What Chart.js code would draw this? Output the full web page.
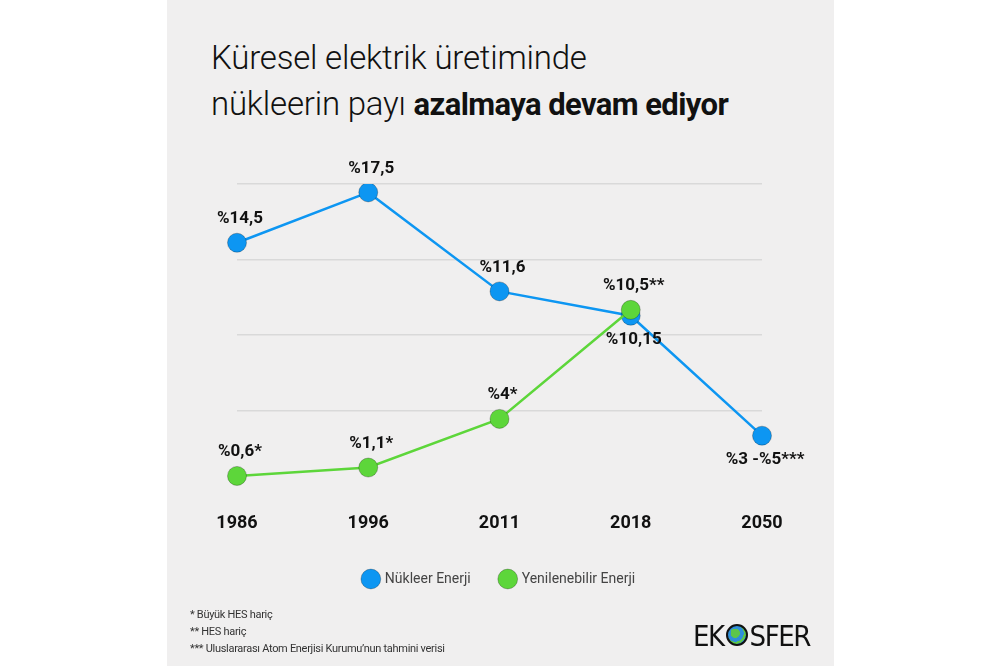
<!DOCTYPE html>
<html>
<head>
<meta charset="utf-8">
<script src="https://cdn.jsdelivr.net/npm/chart.js"></script>
<style>
    html, body { margin: 0; padding: 0; background: #fff; }
    #wrap { position: relative; width: 1000px; height: 666px; overflow: hidden; }
    #panel { position: absolute; left: 167px; top: 0; width: 667px; height: 666px; background: #f0efef; }
    #grafik { position: absolute; left: 0; top: 0; }
    .baslik { position: absolute; left: 211px; font-family: Roboto, 'Liberation Sans', sans-serif; font-weight: 300; font-size: 33px; line-height: 33px; color: #111; white-space: nowrap; letter-spacing: -0.2px; }
    .baslik b { font-weight: 700; font-size: 31px; letter-spacing: -0.6px; }
    .not { position: absolute; left: 190px; font-family: Roboto, sans-serif; font-size: 11px; line-height: 12px; color: #333; letter-spacing: -0.3px; }
    #logo { position: absolute; left: 693px; top: 620px; font-family: 'DejaVu Sans Condensed', 'DejaVu Sans', sans-serif; font-size: 29px; line-height: 32px; color: #111; letter-spacing: -1.5px; }
    #logo span { display: inline-block; width: 18px; height: 18px; border-radius: 50%; vertical-align: 0px; margin: 0 2px; border: 2px solid #111;
        background: radial-gradient(circle at 40% 40%, #5cc64a 0 30%, #2f8fd8 31% 55%, #5cc64a 56% 70%, #2f8fd8 71%); }
</style>
</head>
<body>
<div id="wrap">
    <div id="panel"></div>
    <div class="baslik" style="top:41px">Küresel elektrik üretiminde</div>
    <div class="baslik" style="top:87px">nükleerin payı <b>azalmaya devam ediyor</b></div>
    <canvas id="grafik" width="1000" height="666"></canvas>
    <div class="not" style="top:609px">* Büyük HES hariç</div>
    <div class="not" style="top:626px">** HES hariç</div>
    <div class="not" style="top:643px">*** Uluslararası Atom Enerjisi Kurumu’nun tahmini verisi</div>
    <div id="logo">EK<span></span>SFER</div>
</div>
<script>
    // veriler
    var yillar = ['1986', '1996', '2011', '2018', '2050'];
    var nukleer = [14.5, 17.5, 11.6, 10.15, 3];
    var yenilenebilir = [0.6, 1.1, 4, 10.5, null];
    var nukleerEtiket = ['%14,5', '%17,5', '%11,6', '%10,15', '%3 -%5***'];
    var yenilenebilirEtiket = ['%0,6*', '%1,1*', '%4*', '%10,5**', ''];
    var yMin = 0;
    var yMax = 18;
    var yAdim = 4.5;

    var mavi = '#0d96f2';
    var yesil = '#5dd63a';
    var yaziFont = "Roboto, 'Liberation Sans', sans-serif";

    // nokta etiketleri
    var etiketPlugin = {
        id: 'etiketler',
        afterDatasetsDraw: function (chart) {
            var ctx = chart.ctx;
            ctx.save();
            ctx.font = 'bold 17px ' + yaziFont;
            ctx.fillStyle = '#111';
            ctx.textAlign = 'center';
            ctx.textBaseline = 'middle';
            chart.data.datasets.forEach(function (ds, i) {
                var meta = chart.getDatasetMeta(i);
                meta.data.forEach(function (pt, j) {
                    var txt = ds.etiketler[j];
                    if (!txt || pt.skip) return;
                    var dy = ds.altta[j] ? 24 : -24;
                    ctx.fillText(txt, pt.x + 3, pt.y + dy);
                });
            });
            ctx.restore();
        }
    };

    var ctx = document.getElementById('grafik');
    var chart = new Chart(ctx, {
        type: 'line',
        data: {
            labels: yillar,
            datasets: [{
                label: 'Nükleer Enerji',
                data: nukleer,
                etiketler: nukleerEtiket,
                altta: [false, false, false, true, true],
                borderColor: mavi,
                backgroundColor: mavi,
                pointBackgroundColor: mavi,
                pointBorderColor: 'rgba(0,0,0,0.25)',
                pointBorderWidth: 1,
                pointRadius: 9.5,
                borderWidth: 2.5,
                order: 1
            }, {
                label: 'Yenilenebilir Enerji',
                data: yenilenebilir,
                etiketler: yenilenebilirEtiket,
                altta: [false, false, false, false, false],
                borderColor: yesil,
                backgroundColor: yesil,
                pointBackgroundColor: yesil,
                pointBorderColor: 'rgba(0,0,0,0.25)',
                pointBorderWidth: 1,
                pointRadius: 9.5,
                borderWidth: 2.5,
                order: 0
            }]
        },
        options: {
            responsive: false,
            animation: false,
            layout: {
                padding: { left: 237, right: 238, top: 184, bottom: 70 }
            },
            scales: {
                x: {
                    offset: false,
                    grid: { display: false },
                    border: { display: false },
                    ticks: {
                        autoSkip: false,
                        maxRotation: 0,
                        padding: 19,
                        color: '#111',
                        font: { family: yaziFont, size: 18, weight: 'bold' }
                    },
                    afterFit: function (s) { s.height = 56; }
                },
                y: {
                    min: yMin,
                    max: yMax,
                    border: { display: false },
                    ticks: { display: false, stepSize: yAdim },
                    grid: {
                        drawTicks: false,
                        lineWidth: 1.5,
                        color: function (c) { return c.tick && c.tick.value === yMin ? 'rgba(0,0,0,0)' : '#d9d9d9'; }
                    },
                    afterFit: function (s) { s.width = 0; }
                }
            },
            plugins: {
                legend: {
                    position: 'bottom',
                    labels: {
                        usePointStyle: true,
                        pointStyle: 'circle',
                        padding: 30,
                        color: '#444',
                        font: { family: yaziFont, size: 14 },
                        sort: function (a, b) { return a.datasetIndex - b.datasetIndex; }
                    }
                },
                tooltip: { enabled: false }
            }
        },
        plugins: [etiketPlugin]
    });
</script>
</body>
</html>
